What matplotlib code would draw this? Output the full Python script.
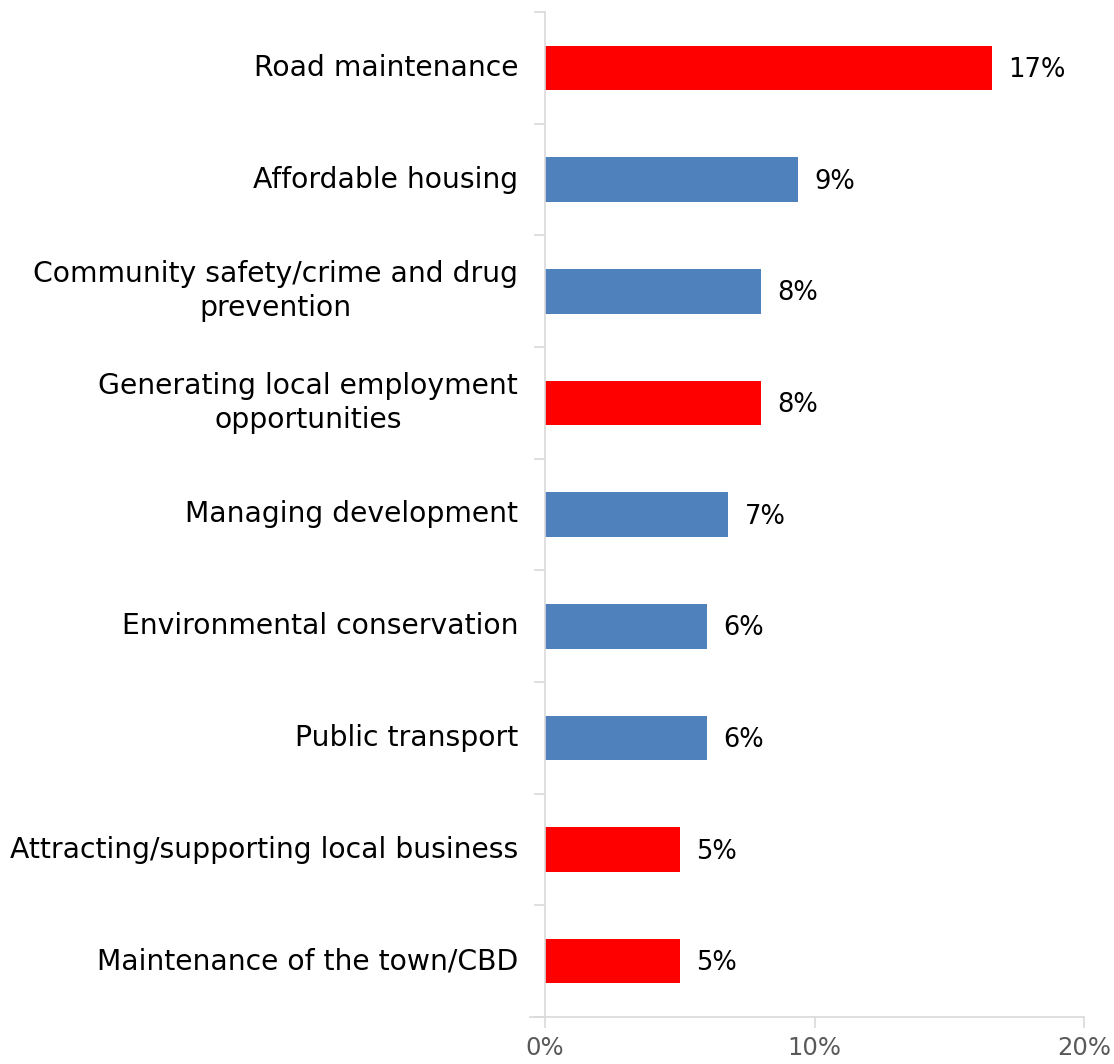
import matplotlib
matplotlib.use("Agg")
import matplotlib.pyplot as plt
from matplotlib.ticker import FixedLocator, PercentFormatter

# survey results, top to bottom
categories = [
    "Road maintenance",
    "Affordable housing",
    "Community safety/crime and drug\nprevention",
    "Generating local employment\nopportunities",
    "Managing development",
    "Environmental conservation",
    "Public transport",
    "Attracting/supporting local business",
    "Maintenance of the town/CBD",
]
shares = [16.6, 9.4, 8.0, 8.0, 6.8, 6.0, 6.0, 5.0, 5.0]
highlight = [True, False, False, True, False, False, False, True, True]
x_ticks = [0, 10, 20]

RED = "#FF0000"
BLUE = "#4F81BD"
AXIS = "#D9D9D9"
TICKTXT = "#595959"

plt.rcParams["font.family"] = ["DejaVu Sans"]

fig = plt.figure(figsize=(11.14, 10.64), dpi=100)
ax = fig.add_axes([545 / 1114, 1 - 1017 / 1064, 539 / 1114, 1005 / 1064])

n = len(categories)
ypos = list(range(n))
colors = [RED if h else BLUE for h in highlight]
ax.barh(ypos, shares, height=0.4, color=colors, zorder=2)

ax.set_xlim(0, 20)
ax.set_ylim(n - 0.5, -0.5)

# value labels
for y, v in zip(ypos, shares):
    ax.text(v + 0.6, y + 0.02, f"{v:.0f}%", va="center", ha="left", fontsize=18.5,
            color="black")

# category labels, drawn as text so the ticks can sit between bars
for y, name in zip(ypos, categories):
    ax.text(-1.0, y, name, va="center", ha="right", multialignment="center",
            fontsize=20.3, color="black", linespacing=1.28)

ax.yaxis.set_major_locator(FixedLocator([i - 0.5 for i in range(n + 1)]))
ax.set_yticklabels([])
ax.xaxis.set_major_locator(FixedLocator(x_ticks))
ax.xaxis.set_major_formatter(PercentFormatter(decimals=0))

for side in ["top", "right"]:
    ax.spines[side].set_visible(False)
for side in ["left", "bottom"]:
    ax.spines[side].set_color(AXIS)
    ax.spines[side].set_linewidth(1.2)

ax.tick_params(axis="y", length=8, width=1.2, color=AXIS)
ax.tick_params(axis="x", length=8, width=1.2, color=AXIS, labelcolor=TICKTXT,
               labelsize=17.5, pad=6)
ax.spines["bottom"].set_bounds(-0.55, 20)

fig.savefig("out.png", dpi=100)
